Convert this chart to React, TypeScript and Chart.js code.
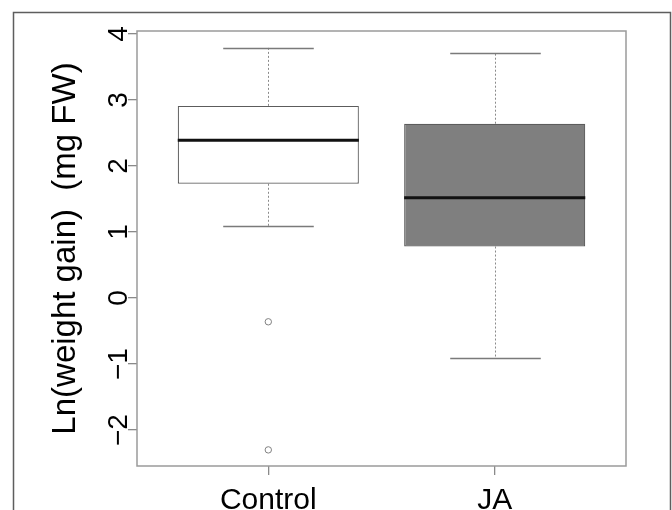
import React, { useEffect, useRef } from 'react';
import { Chart, registerables } from 'chart.js';

Chart.register(...registerables);

// ---- data ----
const categories = ['Control', 'JA'];
const positions = [1, 2];
const lowerWhisker = [1.09, -0.91];
const q1 = [1.73, 0.78];
const medians = [2.39, 1.52];
const q3 = [2.91, 2.64];
const upperWhisker = [3.79, 3.71];
const outlierGroup = [1, 1];
const outlierValues = [-0.36, -2.3];
const yTicks = [-2, -1, 0, 1, 2, 3, 4];
const yMin = -2.544;
const yMax = 4.044;
const xMin = 0.42;
const xMax = 2.58;
const boxFill = ['#ffffff', '#7f7f7f'];

const FONT = "'Liberation Sans', Arial, Helvetica, sans-serif";

const boxPlugin = {
  id: 'boxExtras',
  beforeDraw(chart: any) {
    const ctx = chart.ctx;
    ctx.save();
    ctx.strokeStyle = '#5e5e5e';
    ctx.lineWidth = 1.5;
    ctx.beginPath();
    ctx.moveTo(13.5, chart.height + 5);
    ctx.lineTo(13.5, 12.5);
    ctx.lineTo(670.5, 12.5);
    ctx.lineTo(670.5, chart.height + 5);
    ctx.stroke();
    ctx.restore();
  },
  beforeDatasetsDraw(chart: any) {
    const ctx = chart.ctx;
    const xs = chart.scales.x;
    const ys = chart.scales.y;
    const meta = chart.getDatasetMeta(0);
    ctx.save();
    positions.forEach((p, i) => {
      const px = Math.round(xs.getPixelForValue(p)) + 0.5;
      const half = meta.data[i].width / 2;
      const capHalf = half / 2;
      ctx.strokeStyle = '#8a8a8a';
      ctx.lineWidth = 1;
      ctx.setLineDash([2, 2]);
      ctx.beginPath();
      ctx.moveTo(px, ys.getPixelForValue(q3[i]));
      ctx.lineTo(px, ys.getPixelForValue(upperWhisker[i]));
      ctx.moveTo(px, ys.getPixelForValue(q1[i]));
      ctx.lineTo(px, ys.getPixelForValue(lowerWhisker[i]));
      ctx.stroke();
      ctx.setLineDash([]);
      ctx.strokeStyle = '#7a7a7a';
      ctx.lineWidth = 1.3;
      ctx.beginPath();
      const yu = Math.round(ys.getPixelForValue(upperWhisker[i])) + 0.5;
      const yl = Math.round(ys.getPixelForValue(lowerWhisker[i])) + 0.5;
      ctx.moveTo(px - capHalf, yu);
      ctx.lineTo(px + capHalf, yu);
      ctx.moveTo(px - capHalf, yl);
      ctx.lineTo(px + capHalf, yl);
      ctx.stroke();
    });
    ctx.restore();
  },
  afterDatasetsDraw(chart: any) {
    const ctx = chart.ctx;
    const xs = chart.scales.x;
    const ys = chart.scales.y;
    const meta = chart.getDatasetMeta(0);
    ctx.save();
    positions.forEach((p, i) => {
      const px = xs.getPixelForValue(p);
      const half = meta.data[i].width / 2;
      const my = ys.getPixelForValue(medians[i]);
      ctx.strokeStyle = '#111111';
      ctx.lineWidth = 3;
      ctx.beginPath();
      ctx.moveTo(px - half, my);
      ctx.lineTo(px + half, my);
      ctx.stroke();
    });
    const a = chart.chartArea;
    ctx.strokeStyle = '#9a9a9a';
    ctx.lineWidth = 1.5;
    ctx.strokeRect(a.left, a.top, a.right - a.left, a.bottom - a.top);
    ctx.restore();
  },
};

export default function App() {
  const ref = useRef<HTMLCanvasElement | null>(null);

  useEffect(() => {
    if (!ref.current) return;
    Chart.defaults.font.family = FONT;
    const chart = new Chart(ref.current, {
      type: 'bar',
      data: {
        datasets: [
          {
            type: 'bar',
            data: positions.map((p, i) => ({ x: p, y: [q1[i], q3[i]] })) as any,
            backgroundColor: boxFill,
            borderColor: '#5c5c5c',
            borderWidth: 1.2,
            borderSkipped: false,
            barPercentage: 0.8,
            categoryPercentage: 1.0,
          } as any,
          {
            type: 'scatter',
            data: outlierGroup.map((g, i) => ({ x: positions[g - 1], y: outlierValues[i] })),
            pointStyle: 'circle',
            pointRadius: 3.2,
            borderColor: '#808080',
            backgroundColor: 'rgba(255,255,255,0)',
            borderWidth: 1,
          } as any,
        ],
      },
      options: {
        responsive: false,
        animation: false,
        events: [],
        layout: { padding: { left: 13, top: 31, right: 46, bottom: 0 } },
        plugins: { legend: { display: false }, tooltip: { enabled: false } },
        scales: {
          x: {
            type: 'linear',
            min: xMin,
            max: xMax,
            offset: false,
            grid: { offset: false, drawOnChartArea: false, drawTicks: true, tickLength: 9, color: '#8a8a8a', lineWidth: 1.3 },
            border: { display: false },
            afterBuildTicks: (s: any) => {
              s.ticks = positions.map((v) => ({ value: v }));
            },
            afterFit: (s: any) => {
              s.height = 44;
            },
            ticks: {
              autoSkip: false,
              maxRotation: 0,
              minRotation: 0,
              padding: 8,
              color: '#000000',
              font: { size: 30 },
              callback: (v: any) => categories[positions.indexOf(Number(v))] ?? '',
            },
          },
          y: {
            type: 'linear',
            min: yMin,
            max: yMax,
            beginAtZero: false,
            grid: { drawOnChartArea: false, drawTicks: true, tickLength: 9, color: '#8a8a8a', lineWidth: 1.3 },
            border: { display: false },
            afterBuildTicks: (s: any) => {
              s.ticks = yTicks.map((v) => ({ value: v }));
            },
            afterFit: (s: any) => {
              s.width = 124;
            },
            title: {
              display: true,
              text: 'Ln(weight gain)  (mg FW)',
              color: '#000000',
              font: { size: 33 },
              padding: { top: 33, bottom: 0 },
            },
            ticks: {
              autoSkip: false,
              minRotation: 90,
              maxRotation: 90,
              crossAlign: 'center',
              padding: -7,
              color: '#000000',
              font: { size: 28 },
              callback: (v: any) => (Number(v) < 0 ? '\u2212' + Math.abs(Number(v)) : String(v)),
            },
          },
        },
      },
      plugins: [boxPlugin],
    } as any);
    return () => chart.destroy();
  }, []);

  return (
    <div style={{ position: 'fixed', left: 0, top: 0, width: 672, height: 510, background: '#ffffff' }}>
      <canvas ref={ref} width={672} height={510} style={{ display: 'block' }} />
    </div>
  );
}
